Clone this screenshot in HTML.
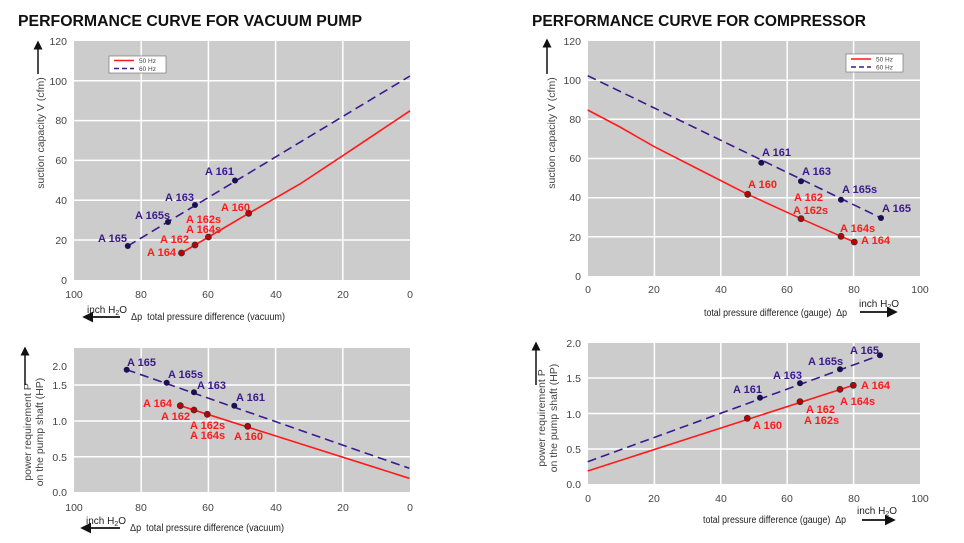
<!DOCTYPE html>
<html><head><meta charset="utf-8"><style>
html,body{margin:0;padding:0;background:#fff;}
svg{display:block;font-family:"Liberation Sans",Arial,sans-serif;}
.t{font-size:10.5px;fill:#444;}
.b{font-size:11px;font-weight:bold;fill:#3a1a8c;}
.r{font-size:11px;font-weight:bold;fill:#ff1a1a;}
.ax{font-size:10px;fill:#222;}
.g{stroke:#fff;stroke-width:1.5;}
.blue{stroke:#3a1a8c;stroke-width:1.6;fill:none;stroke-dasharray:9,5;}
.red{stroke:#ff1a1a;stroke-width:1.6;fill:none;}
.dr{fill:#c00000;stroke:#333;stroke-width:0.8;}
.db{fill:#1a1050;}
</style></head><body>
<svg width="964" height="543" viewBox="0 0 964 543" xmlns="http://www.w3.org/2000/svg">
<defs><marker id="ar" markerWidth="6" markerHeight="6" refX="5" refY="3" orient="auto"><path d="M0,0 L6,3 L0,6 z" fill="#111"/></marker></defs>
<text x="18" y="26" font-size="16" font-weight="bold" fill="#111" textLength="344" lengthAdjust="spacingAndGlyphs">PERFORMANCE CURVE FOR VACUUM PUMP</text>
<text x="532" y="26" font-size="16" font-weight="bold" fill="#111" textLength="334" lengthAdjust="spacingAndGlyphs">PERFORMANCE CURVE FOR COMPRESSOR</text>

<!-- TOP LEFT -->
<rect x="74" y="41" width="336" height="239" fill="#cccccc"/>
<g class="g">
<line x1="141.2" y1="41" x2="141.2" y2="280"/><line x1="208.4" y1="41" x2="208.4" y2="280"/><line x1="275.6" y1="41" x2="275.6" y2="280"/><line x1="342.8" y1="41" x2="342.8" y2="280"/>
<line x1="74" y1="80.8" x2="410" y2="80.8"/><line x1="74" y1="120.6" x2="410" y2="120.6"/><line x1="74" y1="160.4" x2="410" y2="160.4"/><line x1="74" y1="200.2" x2="410" y2="200.2"/><line x1="74" y1="240" x2="410" y2="240"/>
</g>
<g class="t" text-anchor="end"><text x="67" y="45">120</text><text x="67" y="85">100</text><text x="67" y="124">80</text><text x="67" y="164">60</text><text x="67" y="204">40</text><text x="67" y="244">20</text><text x="67" y="284">0</text></g>
<g class="t" text-anchor="middle"><text x="74" y="298">100</text><text x="141" y="298">80</text><text x="208" y="298">60</text><text x="276" y="298">40</text><text x="343" y="298">20</text><text x="410" y="298">0</text></g>
<rect x="109" y="56" width="57" height="17" fill="#fff" stroke="#666" stroke-width="0.6"/>
<line x1="114" y1="60.5" x2="134" y2="60.5" stroke="#ff1a1a" stroke-width="1.6"/><text x="139" y="63" font-size="6.5" fill="#444">50 Hz</text>
<line x1="114" y1="68.5" x2="134" y2="68.5" stroke="#3a1a8c" stroke-width="1.6" stroke-dasharray="5,3"/><text x="139" y="71" font-size="6.5" fill="#444">60 Hz</text>
<polyline class="blue" points="127.8,246 410,76"/>
<polyline class="red" points="181.5,253 248.7,213.3 300,184 343,155.6 410,110.8"/>
<g class="db"><circle cx="127.8" cy="246" r="3"/><circle cx="168" cy="222" r="3"/><circle cx="195" cy="205" r="3"/><circle cx="235" cy="180.5" r="3"/></g>
<g class="dr"><circle cx="181.5" cy="253" r="3"/><circle cx="195" cy="245" r="3"/><circle cx="208.4" cy="237" r="3"/><circle cx="248.7" cy="213.3" r="3"/></g>
<text class="b" x="98" y="242">A 165</text><text class="b" x="135" y="219">A 165s</text><text class="b" x="165" y="201">A 163</text><text class="b" x="205" y="175">A 161</text>
<text class="r" x="221" y="211">A 160</text><text class="r" x="186" y="223">A 162s</text><text class="r" x="186" y="233">A 164s</text><text class="r" x="160" y="243">A 162</text><text class="r" x="147" y="256">A 164</text>
<text class="t" x="44" y="133" text-anchor="middle" transform="rotate(-90 44 133)">suction capacity V (cfm)</text>
<line x1="38" y1="74" x2="38" y2="42" stroke="#111" stroke-width="1.5" marker-end="url(#ar)"/>
<text class="ax" x="87" y="313">inch H<tspan font-size="7" dy="2">2</tspan><tspan dy="-2">O</tspan></text>
<line x1="120" y1="317" x2="84" y2="317" stroke="#111" stroke-width="1.8" marker-end="url(#ar)"/>
<text class="ax" x="131" y="320" textLength="154" lengthAdjust="spacingAndGlyphs">Δp&#160;&#160;total pressure difference (vacuum)</text>

<!-- BOTTOM LEFT -->
<rect x="74" y="348" width="336" height="144" fill="#cccccc"/>
<g class="g">
<line x1="141.2" y1="348" x2="141.2" y2="492"/><line x1="208.4" y1="348" x2="208.4" y2="492"/><line x1="275.6" y1="348" x2="275.6" y2="492"/><line x1="342.8" y1="348" x2="342.8" y2="492"/>
<line x1="74" y1="385" x2="410" y2="385"/><line x1="74" y1="421" x2="410" y2="421"/><line x1="74" y1="456.7" x2="410" y2="456.7"/>
</g>
<g class="t" text-anchor="end"><text x="67" y="370">2.0</text><text x="67" y="389">1.5</text><text x="67" y="425">1.0</text><text x="67" y="461">0.5</text><text x="67" y="496">0.0</text></g>
<g class="t" text-anchor="middle"><text x="74" y="511">100</text><text x="141" y="511">80</text><text x="208" y="511">60</text><text x="276" y="511">40</text><text x="343" y="511">20</text><text x="410" y="511">0</text></g>
<polyline class="blue" points="126.7,369.7 409.3,468.3"/>
<polyline class="red" points="180.3,405.7 409.3,478.3"/>
<g class="db"><circle cx="126.7" cy="369.7" r="3"/><circle cx="166.7" cy="382.7" r="3"/><circle cx="194" cy="392.3" r="3"/><circle cx="234.3" cy="405.7" r="3"/></g>
<g class="dr"><circle cx="180.3" cy="405.7" r="3"/><circle cx="194" cy="410" r="3"/><circle cx="207.3" cy="414.3" r="3"/><circle cx="247.7" cy="426.3" r="3"/></g>
<text class="b" x="127" y="366">A 165</text><text class="b" x="168" y="378">A 165s</text><text class="b" x="197" y="389">A 163</text><text class="b" x="236" y="401">A 161</text>
<text class="r" x="143" y="407">A 164</text><text class="r" x="161" y="420">A 162</text><text class="r" x="190" y="429">A 162s</text><text class="r" x="190" y="439">A 164s</text><text class="r" x="234" y="440">A 160</text>
<text class="t" x="31" y="432" text-anchor="middle" transform="rotate(-90 31 432)">power requirement P</text>
<text class="t" x="43" y="432" text-anchor="middle" transform="rotate(-90 43 432)">on the pump shaft (HP)</text>
<line x1="25" y1="385" x2="25" y2="348" stroke="#111" stroke-width="1.5" marker-end="url(#ar)"/>
<text class="ax" x="86" y="524">inch H<tspan font-size="7" dy="2">2</tspan><tspan dy="-2">O</tspan></text>
<line x1="120" y1="528" x2="82" y2="528" stroke="#111" stroke-width="1.8" marker-end="url(#ar)"/>
<text class="ax" x="130" y="531" textLength="154" lengthAdjust="spacingAndGlyphs">Δp&#160;&#160;total pressure difference (vacuum)</text>

<!-- TOP RIGHT -->
<rect x="588" y="41" width="332" height="235" fill="#cccccc"/>
<g class="g">
<line x1="654.4" y1="41" x2="654.4" y2="276"/><line x1="720.8" y1="41" x2="720.8" y2="276"/><line x1="787.2" y1="41" x2="787.2" y2="276"/><line x1="853.6" y1="41" x2="853.6" y2="276"/>
<line x1="588" y1="80.2" x2="920" y2="80.2"/><line x1="588" y1="119.3" x2="920" y2="119.3"/><line x1="588" y1="158.5" x2="920" y2="158.5"/><line x1="588" y1="197.7" x2="920" y2="197.7"/><line x1="588" y1="236.8" x2="920" y2="236.8"/>
</g>
<g class="t" text-anchor="end"><text x="581" y="45">120</text><text x="581" y="84">100</text><text x="581" y="123">80</text><text x="581" y="162">60</text><text x="581" y="201">40</text><text x="581" y="241">20</text><text x="581" y="280">0</text></g>
<g class="t" text-anchor="middle"><text x="588" y="293">0</text><text x="654" y="293">20</text><text x="721" y="293">40</text><text x="787" y="293">60</text><text x="854" y="293">80</text><text x="920" y="293">100</text></g>
<rect x="846" y="54" width="57" height="18" fill="#fff" stroke="#666" stroke-width="0.6"/>
<line x1="851" y1="59" x2="871" y2="59" stroke="#ff1a1a" stroke-width="1.6"/><text x="876" y="61.5" font-size="6.5" fill="#444">50 Hz</text>
<line x1="851" y1="67" x2="871" y2="67" stroke="#3a1a8c" stroke-width="1.6" stroke-dasharray="5,3"/><text x="876" y="69.5" font-size="6.5" fill="#444">60 Hz</text>
<polyline class="blue" points="587.7,75.7 881,218"/>
<polyline class="red" points="587.7,110 620,127 654.3,146.7 700,170 747.7,194.3 801,218.7 841,236.3 854.3,242"/>
<g class="db"><circle cx="761.3" cy="162.7" r="3"/><circle cx="801" cy="181.3" r="3"/><circle cx="841" cy="199.7" r="3"/><circle cx="881" cy="218" r="3"/></g>
<g class="dr"><circle cx="747.7" cy="194.3" r="3"/><circle cx="801" cy="218.7" r="3"/><circle cx="841" cy="236.3" r="3"/><circle cx="854.3" cy="242" r="3"/></g>
<text class="b" x="762" y="156">A 161</text><text class="b" x="802" y="175">A 163</text><text class="b" x="842" y="193">A 165s</text><text class="b" x="882" y="212">A 165</text>
<text class="r" x="748" y="188">A 160</text><text class="r" x="794" y="201">A 162</text><text class="r" x="793" y="214">A 162s</text><text class="r" x="840" y="232">A 164s</text><text class="r" x="861" y="244">A 164</text>
<text class="t" x="555" y="133" text-anchor="middle" transform="rotate(-90 555 133)">suction capacity V (cfm)</text>
<line x1="547" y1="74" x2="547" y2="40" stroke="#111" stroke-width="1.5" marker-end="url(#ar)"/>
<text class="ax" x="704" y="316" textLength="143" lengthAdjust="spacingAndGlyphs">total pressure difference (gauge)&#160;&#160;Δp</text>
<text class="ax" x="859" y="307">inch H<tspan font-size="7" dy="2">2</tspan><tspan dy="-2">O</tspan></text>
<line x1="860" y1="312" x2="896" y2="312" stroke="#111" stroke-width="1.8" marker-end="url(#ar)"/>

<!-- BOTTOM RIGHT -->
<rect x="588" y="343" width="332" height="141" fill="#cccccc"/>
<g class="g">
<line x1="654.4" y1="343" x2="654.4" y2="484"/><line x1="720.8" y1="343" x2="720.8" y2="484"/><line x1="787.2" y1="343" x2="787.2" y2="484"/><line x1="853.6" y1="343" x2="853.6" y2="484"/>
<line x1="588" y1="378" x2="920" y2="378"/><line x1="588" y1="413.5" x2="920" y2="413.5"/><line x1="588" y1="449" x2="920" y2="449"/>
</g>
<g class="t" text-anchor="end"><text x="581" y="347">2.0</text><text x="581" y="382">1.5</text><text x="581" y="418">1.0</text><text x="581" y="453">0.5</text><text x="581" y="488">0.0</text></g>
<g class="t" text-anchor="middle"><text x="588" y="502">0</text><text x="654" y="502">20</text><text x="721" y="502">40</text><text x="787" y="502">60</text><text x="854" y="502">80</text><text x="920" y="502">100</text></g>
<polyline class="blue" points="587.7,461.7 880,355.3"/>
<polyline class="red" points="587.7,471 853.3,385.3"/>
<g class="db"><circle cx="760" cy="397.7" r="3"/><circle cx="800" cy="383.3" r="3"/><circle cx="840" cy="369.3" r="3"/><circle cx="880" cy="355.3" r="3"/></g>
<g class="dr"><circle cx="747.3" cy="418.3" r="3"/><circle cx="800" cy="401.7" r="3"/><circle cx="840" cy="389.3" r="3"/><circle cx="853.3" cy="385.3" r="3"/></g>
<text class="b" x="733" y="393">A 161</text><text class="b" x="773" y="379">A 163</text><text class="b" x="808" y="365">A 165s</text><text class="b" x="850" y="354">A 165</text>
<text class="r" x="861" y="389">A 164</text><text class="r" x="840" y="405">A 164s</text><text class="r" x="806" y="413">A 162</text><text class="r" x="804" y="424">A 162s</text><text class="r" x="753" y="429">A 160</text>
<text class="t" x="545" y="418" text-anchor="middle" transform="rotate(-90 545 418)">power requirement P</text>
<text class="t" x="557" y="418" text-anchor="middle" transform="rotate(-90 557 418)">on the pump shaft (HP)</text>
<line x1="536" y1="385" x2="536" y2="343" stroke="#111" stroke-width="1.5" marker-end="url(#ar)"/>
<text class="ax" x="703" y="523" textLength="143" lengthAdjust="spacingAndGlyphs">total pressure difference (gauge)&#160;&#160;Δp</text>
<text class="ax" x="857" y="514">inch H<tspan font-size="7" dy="2">2</tspan><tspan dy="-2">O</tspan></text>
<line x1="862" y1="520" x2="894" y2="520" stroke="#111" stroke-width="1.8" marker-end="url(#ar)"/>
</svg>
</body></html>
